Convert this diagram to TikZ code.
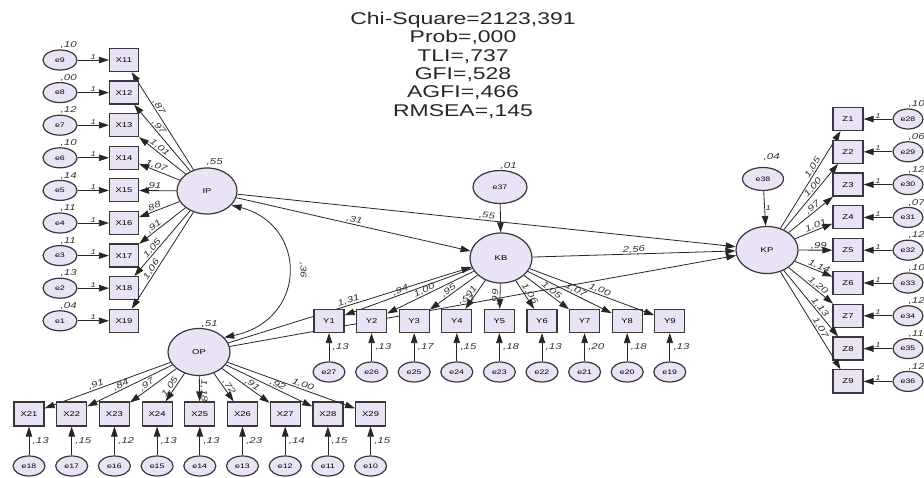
\documentclass[tikz,border=0pt]{standalone}
\usepackage{fontspec}
\setmainfont{Liberation Sans}[FakeStretch=1.35]
\usetikzlibrary{arrows.meta,positioning,shapes.geometric,calc}
\definecolor{amosfill}{RGB}{233,227,245}
\definecolor{amosline}{RGB}{55,55,60}
\tikzset{
  lat/.style={ellipse, draw=amosline, line width=1.2pt, fill=amosfill, inner sep=0pt,
              minimum width=62pt, minimum height=47pt, font=\fontsize{7}{8}\selectfont},
  err/.style={ellipse, draw=amosline, line width=1.2pt, fill=amosfill, inner sep=0pt,
              minimum width=34pt, minimum height=20pt, font=\fontsize{6.5}{7}\selectfont},
  obs/.style={rectangle, draw=amosline, line width=1.2pt, fill=amosfill, inner sep=0pt,
              minimum width=29pt, minimum height=23pt, font=\fontsize{7}{8}\selectfont},
  pth/.style={-{Triangle[length=10pt,width=6.5pt]}, draw=black!85, line width=0.8pt},
  covar/.style={{Triangle[length=10pt,width=6.5pt]}-{Triangle[length=10pt,width=6.5pt]},
                draw=black!85, line width=0.8pt},
  coef/.style={font=\fontsize{8.5}{9}\selectfont\itshape, text=black!80, inner sep=0.5pt},
  varl/.style={font=\fontsize{8.5}{9}\selectfont\itshape, text=black!80, inner sep=0.5pt},
  onel/.style={font=\fontsize{7}{8}\selectfont\itshape, text=black!80, inner sep=0.5pt},
  fitstat/.style={font=\fontsize{17}{18.3}\selectfont, text=black!85, align=center, inner sep=0pt},
}

\begin{document}
\begin{tikzpicture}[x=1pt,y=-1pt]
\useasboundingbox (0,0) rectangle (924,478);

% ===================== fit statistics =====================
\node[fitstat, anchor=north] (fit) at (463,12)
  {Chi-Square=2123,391\\Prob=,000\\TLI=,737\\GFI=,528\\AGFI=,466\\RMSEA=,145};

% ===================== latent variables =====================
\node[lat, minimum width=60pt, minimum height=46pt] (IP) at (207,191) {IP};
\node[lat] (OP) at (199,352) {OP};
\node[lat, minimum height=50pt] (KB) at (501,258) {KB};
\node[lat] (KP) at (767,250) {KP};
\node[err, minimum width=54pt, minimum height=33pt] (e37) at (500,187) {e37};
\node[err, minimum width=41pt, minimum height=23pt] (e38) at (763,179) {e38};
\node[varl, anchor=south west] (vIP) at ([xshift=-1pt,yshift=1pt]IP.north) {,55};
\node[varl, anchor=south west] (vOP) at ([xshift=2pt]OP.north) {,51};
\node[varl, anchor=south west] (ve37) at (e37.north) {,01};
\node[varl, anchor=south west] (ve38) at ([yshift=6pt]e38.north) {,04};

% ===================== structural paths =====================
\draw[pth] (IP) -- node[coef, sloped, above] {,31} (KB);
\draw[pth] (IP) -- node[coef, sloped, above] {,55} (KP);
\draw[pth] (OP) -- node[coef, sloped, above] {1,31} (KB);
\draw[pth] (OP) -- node[coef, sloped, above, pos=0.47] {,51} (KP);
\draw[pth] (KB) -- node[coef, sloped, above] {2,56} (KP);
\draw[pth] (e37) -- (KB);
\draw[pth] (e38) -- node[onel, right] {1} (KP);
\draw[covar] (IP.-30) .. controls (308,225) and (308,320) .. (OP.30);
\node[coef, rotate=-90] (cov) at (303,270) {,36};

% ===================== IP indicators X11--X19 =====================
\foreach \k/\cf/\vr in {1/{,87}/{,10}, 2/{,97}/{,00}, 3/{1,01}/{,12}, 4/{1,07}/{,10},
                        5/{,91}/{,14}, 6/{,88}/{,11}, 7/{,91}/{,11}, 8/{1,05}/{,13}, 9/{1,06}/{,04}} {
  \pgfmathsetmacro{\yy}{60+(\k-1)*32.6}
  \pgfmathtruncatemacro{\ee}{10-\k}
  \node[obs] (X1\k) at (124,\yy) {X1\k};
  \node[err] (e\ee) at (60,\yy) {e\ee};
  \node[varl, anchor=south west] (ve\ee) at (e\ee.north) {\vr};
  \draw[pth] (e\ee) -- node[onel, above] {1} (X1\k);
  \draw[pth] (IP) -- node[coef, sloped, above, pos=0.62] {\cf} (X1\k);
}

% ===================== OP indicators X21--X29 =====================
\foreach \k/\cf/\vr in {1/{,91}/{,13}, 2/{,84}/{,15}, 3/{,97}/{,12}, 4/{1,05}/{,13},
                        5/{1,18}/{,13}, 6/{,72}/{,23}, 7/{,91}/{,14}, 8/{,92}/{,15}, 9/{1,00}/{,15}} {
  \pgfmathsetmacro{\xx}{29+(\k-1)*42.7}
  \pgfmathtruncatemacro{\ee}{19-\k}
  \node[obs, minimum width=30pt, minimum height=24pt] (X2\k) at (\xx,414) {X2\k};
  \node[err, minimum width=32pt] (e\ee) at (\xx,466) {e\ee};
  \draw[pth] (e\ee) -- (X2\k);
  \node[varl, anchor=west] (ve\ee) at ([xshift=3pt]$(e\ee.north)!0.5!(X2\k.south)$) {\vr};
  \draw[pth] (OP) -- node[coef, sloped, above, pos=0.58] {\cf} (X2\k);
}

% ===================== KB indicators Y1--Y9 =====================
\foreach \k/\cf/\vr in {1/{,94}/{,13}, 2/{1,00}/{,13}, 3/{,95}/{,17}, 4/{,91}/{,15},
                        5/{,99}/{,18}, 6/{1,06}/{,13}, 7/{1,05}/{,20}, 8/{1,07}/{,18}, 9/{1,00}/{,13}} {
  \pgfmathsetmacro{\xx}{329+(\k-1)*42.6}
  \pgfmathtruncatemacro{\ee}{28-\k}
  \node[obs, minimum width=30pt, minimum height=23pt] (Y\k) at (\xx,321) {Y\k};
  \node[err, minimum width=32pt] (e\ee) at (\xx,372) {e\ee};
  \draw[pth] (e\ee) -- (Y\k);
  \node[varl, anchor=west] (ve\ee) at ([xshift=3pt]$(e\ee.north)!0.5!(Y\k.south)$) {\vr};
  \draw[pth] (KB) -- node[coef, sloped, above, pos=0.55] {\cf} (Y\k);
}

% ===================== KP indicators Z1--Z9 =====================
\foreach \k/\cf/\vr in {1/{1,05}/{,10}, 2/{1,00}/{,06}, 3/{,97}/{,12}, 4/{1,01}/{,07},
                        5/{,99}/{,12}, 6/{1,14}/{,10}, 7/{1,20}/{,12}, 8/{1,13}/{,11}, 9/{1,07}/{,12}} {
  \pgfmathsetmacro{\yy}{119+(\k-1)*32.8}
  \pgfmathtruncatemacro{\ee}{27+\k}
  \node[obs, minimum width=30pt] (Z\k) at (848,\yy) {Z\k};
  \node[err, minimum width=30pt] (e\ee) at (908,\yy) {e\ee};
  \node[varl, anchor=south west] (ve\ee) at (e\ee.north) {\vr};
  \draw[pth] (e\ee) -- node[onel, above] {1} (Z\k);
  \draw[pth] (KP) -- node[coef, sloped, above, pos=0.6] {\cf} (Z\k);
}

\end{tikzpicture}
\end{document}
